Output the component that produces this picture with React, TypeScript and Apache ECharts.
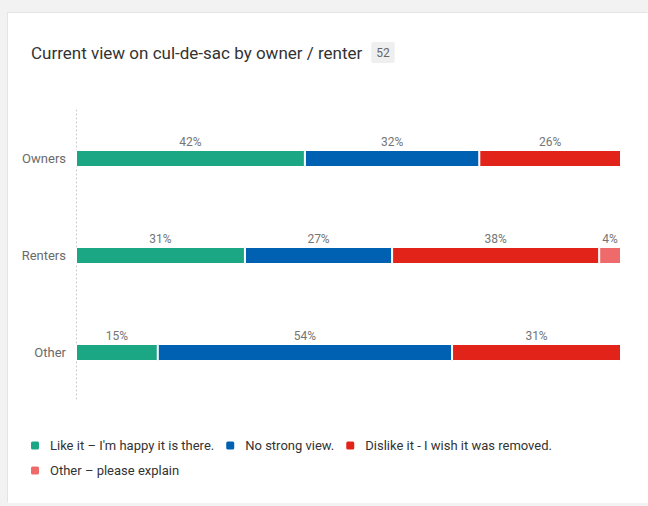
import React, { useEffect, useRef } from "react";
import * as echarts from "echarts";

const categories = ["Owners", "Renters", "Other"];
const seriesNames = [
  "Like it – I'm happy it is there.",
  "No strong view.",
  "Dislike it - I wish it was removed.",
  "Other – please explain",
];
const likeValues = [42, 31, 15];
const noViewValues = [32, 27, 54];
const dislikeValues = [26, 38, 31];
const otherValues: (number | null)[] = [null, 4, null];
const seriesColors = ["#1ba784", "#0061b2", "#e2231a", "#ef6b6b"];
const titleText = "Current view on cul-de-sac by owner / renter";
const responseCount = "52";

const FONT = "Roboto, 'Open Sans', sans-serif";

export default function App() {
  const ref = useRef<HTMLDivElement>(null);
  useEffect(() => {
    if (!ref.current) return;
    const chart = echarts.init(ref.current, undefined, { renderer: "svg" });
    const allValues = [likeValues, noViewValues, dislikeValues, otherValues];
    const legendText = { fontSize: 13, color: "#333333", fontFamily: FONT, padding: [0, 0, 0, 5] };
    chart.setOption({
      animation: false,
      textStyle: { fontFamily: FONT },
      title: {
        left: 18,
        top: 24,
        text: `{t|${titleText}}  {b|${responseCount}}`,
        textStyle: {
          fontWeight: "normal",
          rich: {
            t: { fontSize: 17, color: "#333333", fontFamily: FONT, fontWeight: "normal" },
            b: {
              fontSize: 12,
              color: "#666666",
              backgroundColor: "#efefef",
              padding: [5, 5, 4, 5],
              borderRadius: 2,
              fontFamily: FONT,
              fontWeight: "normal",
            },
          },
        },
      },
      legend: [
        {
          left: 16,
          top: 421,
          itemWidth: 10,
          itemHeight: 10,
          itemGap: 10,
          icon: "roundRect",
          data: seriesNames.slice(0, 3),
          textStyle: legendText,
        },
        {
          left: 16,
          top: 446,
          itemWidth: 10,
          itemHeight: 10,
          icon: "roundRect",
          data: seriesNames.slice(3),
          textStyle: legendText,
        },
      ],
      grid: { left: 68, right: 27, top: 97, bottom: 102 },
      xAxis: {
        type: "value",
        min: 0,
        max: 100,
        show: false,
      },
      yAxis: {
        type: "category",
        data: categories,
        inverse: true,
        axisLine: { show: true, lineStyle: { color: "#c8c8c8", type: [1, 3], width: 1 } },
        axisTick: { show: false },
        axisLabel: { color: "#6a6a6a", fontSize: 13, margin: 10, fontFamily: FONT },
        splitLine: { show: false },
      },
      series: allValues.map((vals, i) => ({
        name: seriesNames[i],
        type: "bar",
        stack: "total",
        barWidth: 17,
        data: vals,
        itemStyle: { color: seriesColors[i], borderColor: "#ffffff", borderWidth: 1 },
        label: {
          show: true,
          position: "top",
          distance: 2,
          formatter: "{c}%",
          color: "#757575",
          fontSize: 12,
          fontFamily: FONT,
        },
      })),
    });
    return () => chart.dispose();
  }, []);

  return (
    <div style={{ position: "fixed", left: 0, top: 0, width: 648, height: 506, background: "#f2f2f2", overflow: "hidden" }}>
      <div
        style={{
          position: "absolute",
          left: 8,
          top: 13,
          width: 640,
          height: 490,
          background: "#ffffff",
          boxShadow: "-1px -1px 0 #e4e4e4",
        }}
      >
        <div ref={ref} style={{ width: 640, height: 490 }} />
      </div>
    </div>
  );
}
